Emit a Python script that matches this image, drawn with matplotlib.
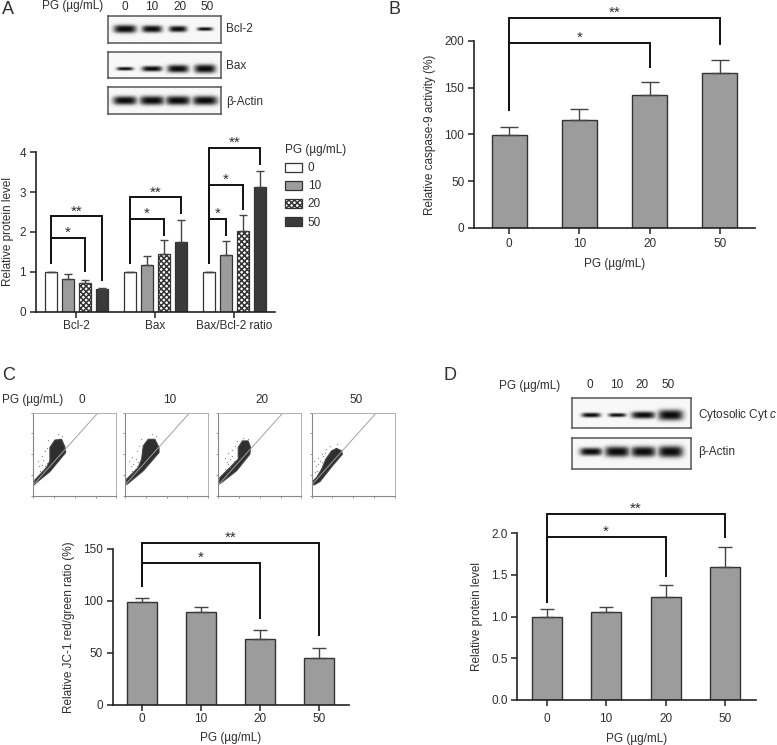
import numpy as np
import matplotlib
matplotlib.use('Agg')
import matplotlib.pyplot as plt
from matplotlib.patches import Patch, Polygon

plt.rcParams['font.family'] = ['Liberation Sans', 'DejaVu Sans']
plt.rcParams['font.size'] = 8.5
plt.rcParams['text.color'] = '#2e2e2e'
plt.rcParams['xtick.labelcolor'] = '#2e2e2e'
plt.rcParams['ytick.labelcolor'] = '#2e2e2e'
plt.rcParams['axes.labelcolor'] = '#2e2e2e'
plt.rcParams['hatch.linewidth'] = 1.1
plt.rcParams['mathtext.fontset'] = 'custom'
plt.rcParams['mathtext.it'] = 'Liberation Sans:italic'

W, H = 777, 745
PG = ['0', '10', '20', '50']
GREY = '#9c9c9c'
DARK = '#3a3a3a'

# panel A
a_groups = ['Bcl-2', 'Bax', 'Bax/Bcl-2 ratio']
a_vals = [[1.0, 1.0, 1.0], [0.83, 1.18, 1.42], [0.73, 1.45, 2.02], [0.57, 1.75, 3.12]]
a_errs = [[0.0, 0.0, 0.0], [0.12, 0.23, 0.36], [0.07, 0.35, 0.41], [0.03, 0.56, 0.42]]
# panel B
b_vals = [99, 115, 142, 166]
b_errs = [9, 12, 14, 13]
# panel C
c_vals = [99, 89, 63, 45]
c_errs = [4, 5, 9, 10]
# panel D
d_vals = [1.0, 1.06, 1.23, 1.59]
d_errs = [0.09, 0.06, 0.15, 0.25]

# western blot band strengths (width, thickness) per lane
blot_bcl2 = [(0.95, 0.85), (0.85, 0.75), (0.75, 0.65), (0.65, 0.38)]
blot_bax = [(0.7, 0.38), (0.85, 0.6), (0.9, 0.85), (0.9, 0.95)]
blot_actin_a = [(1.0, 0.95), (1.05, 1.0), (1.05, 1.0), (1.05, 1.0)]
blot_cyt = [(0.75, 0.45), (0.7, 0.38), (0.95, 0.7), (1.0, 1.05)]
blot_actin_d = [(0.9, 0.75), (1.0, 1.0), (1.0, 1.0), (1.0, 1.1)]

# flow cytometry clouds, outlines read in axes fractions
flow_clouds = [
    [(0.2, 0.42), (0.2, 0.58), (0.26, 0.67), (0.34, 0.68), (0.38, 0.59), (0.39, 0.52), (0.2, 0.29),
     (0.04, 0.16), (0.01, 0.13), (0.02, 0.19), (0.16, 0.34)],
    [(0.2, 0.44), (0.22, 0.6), (0.28, 0.68), (0.36, 0.68), (0.41, 0.58), (0.41, 0.52), (0.22, 0.3),
     (0.04, 0.15), (0.01, 0.13), (0.02, 0.2), (0.16, 0.34)],
    [(0.24, 0.44), (0.24, 0.58), (0.29, 0.66), (0.36, 0.66), (0.39, 0.58), (0.38, 0.5), (0.22, 0.3),
     (0.04, 0.16), (0.01, 0.14), (0.02, 0.22), (0.14, 0.34)],
    [(0.01, 0.14), (0.01, 0.17), (0.06, 0.22), (0.12, 0.32), (0.17, 0.44), (0.24, 0.54), (0.3, 0.57),
     (0.36, 0.54), (0.37, 0.5), (0.25, 0.36), (0.1, 0.17), (0.03, 0.13)],
]
# the few stray events left of the clouds
flow_stray = [
    [(0.06, 0.415), (0.1, 0.476), (0.12, 0.435), (0.07, 0.355), (0.14, 0.536), (0.16, 0.577), (0.16, 0.395),
     (0.12, 0.315), (0.18, 0.677), (0.3, 0.738), (0.35, 0.718), (0.1, 0.375), (0.14, 0.355), (0.08, 0.295)],
    [(0.05, 0.42), (0.09, 0.47), (0.13, 0.44), (0.07, 0.36), (0.15, 0.54), (0.17, 0.6), (0.16, 0.4),
     (0.12, 0.32), (0.19, 0.68), (0.32, 0.74), (0.37, 0.72), (0.1, 0.38), (0.14, 0.36), (0.08, 0.3)],
    [(0.08, 0.46), (0.12, 0.52), (0.14, 0.44), (0.1, 0.4), (0.17, 0.55), (0.2, 0.6), (0.19, 0.42),
     (0.14, 0.34), (0.22, 0.66), (0.3, 0.7), (0.36, 0.68), (0.12, 0.38), (0.16, 0.48), (0.08, 0.32)],
    [(0.03, 0.42), (0.05, 0.36), (0.08, 0.46), (0.06, 0.3), (0.1, 0.42), (0.12, 0.5), (0.14, 0.48),
     (0.08, 0.38), (0.17, 0.56), (0.22, 0.6), (0.31, 0.62), (0.04, 0.28), (0.12, 0.4), (0.16, 0.52)],
]
flow_x = [33.3, 125, 218.3, 311.7]


def ax_px(x0, ytop, x1, ybot, fig):
    return fig.add_axes([x0 / W, 1 - ybot / H, (x1 - x0) / W, (ybot - ytop) / H])


def bracket(ax, x0, x1, y, y0, y1, stars):
    ax.plot([x0, x0, x1, x1], [y0, y, y, y1], color='#111111', lw=1.4, clip_on=False,
            solid_joinstyle='miter', solid_capstyle='butt')
    ax.annotate(stars, xy=((x0 + x1) / 2, y), xytext=(0, 3.6), textcoords='offset points',
                ha='center', va='center', fontsize=11, annotation_clip=False)


def style(ax):
    ax.spines['top'].set_visible(False)
    ax.spines['right'].set_visible(False)
    ax.spines['left'].set_linewidth(1.2)
    ax.spines['bottom'].set_linewidth(1.2)
    ax.spines['left'].set_color('#222222')
    ax.spines['bottom'].set_color('#222222')
    ax.tick_params(length=4, width=1.1, pad=3, color='#222222')


def bar_panel(fig, box, xlim, ylim, yticks, ylabel, vals, errs, width, labelpad, capsize, xpad, xlabelpad):
    ax = ax_px(*box, fig)
    x = np.arange(len(vals))
    ax.bar(x, vals, width, color=GREY, edgecolor='#333333', lw=1.0,
           yerr=[np.zeros(len(errs)), errs], ecolor='#444444', capsize=capsize,
           error_kw={'lw': 1.0, 'capthick': 1.0})
    ax.set_xlim(*xlim)
    ax.set_ylim(*ylim)
    ax.set_yticks(yticks)
    ax.set_xticks(x, PG)
    ax.set_xlabel('PG (µg/mL)', labelpad=xlabelpad)
    ax.set_ylabel(ylabel, labelpad=labelpad)
    style(ax)
    ax.tick_params(axis='x', pad=xpad)
    return ax


def blot(fig, box, bands, centers, cy=0.5):
    ax = ax_px(*box, fig)
    px = np.linspace(0, 1, 300)
    py = np.linspace(0, 1, 60)
    xx, yy = np.meshgrid(px, py)
    img = np.zeros_like(xx)
    for c, (w, t) in zip(centers, bands):
        u = (xx - c) / (0.105 * w)
        v = (yy - cy) / (0.17 * t)
        img = np.maximum(img, np.exp(-u ** 4 - np.abs(v) ** 2.6))
    ax.imshow(0.97 - 0.93 * img, cmap='gray', vmin=0, vmax=1, aspect='auto', extent=[0, 1, 0, 1],
              interpolation='bilinear')
    ax.set_xticks([])
    ax.set_yticks([])
    for s in ax.spines.values():
        s.set_linewidth(1.1)
        s.set_color('#555555')
    return ax


def flow(fig, x0, cloud, stray):
    ax = ax_px(x0, 412.7, x0 + 83, 495.7, fig)
    ax.set_xlim(0, 1)
    ax.set_ylim(0, 1)
    ax.plot([0, 0.78], [0.13, 1.0], color='#a0a0a0', lw=0.7)
    ax.add_patch(Polygon(cloud, closed=True, facecolor='#2f2f2f', edgecolor='#444444', lw=0.8))
    ax.plot([p[0] for p in stray], [p[1] for p in stray], ls='none', marker='o', ms=0.9, color='#8a8a8a', mew=0)
    ax.set_xticks([0, 0.25, 0.5, 0.75, 1], [])
    ax.set_yticks([0, 0.25, 0.5, 0.75, 1], [])
    ax.tick_params(length=1.5, width=0.5, color='#666666')
    for s in ('top', 'right'):
        ax.spines[s].set_linewidth(0.7)
        ax.spines[s].set_color('#b0b0b0')
    for s in ('left', 'bottom'):
        ax.spines[s].set_linewidth(0.8)
        ax.spines[s].set_color('#888888')
    return ax


fig = plt.figure(figsize=(W / 100, H / 100), dpi=100)


def ftext(x, y, s, **kw):
    kw.setdefault('ha', 'left')
    kw.setdefault('va', 'center')
    fig.text(x / W, 1 - y / H, s, **kw)


for label, x, y in [('A', 2, 9), ('B', 389, 9), ('C', 2, 375), ('D', 443, 375)]:
    ftext(x, y, label, fontsize=13)

# A blots
lanes = [0.15, 0.39, 0.62, 0.86]
ftext(41.5, 6.5, 'PG (µg/mL)')
for xp, s in zip([124.7, 151.7, 180, 206.7], PG):
    ftext(xp, 6.5, s, ha='center')
blot(fig, (108, 15.7, 220.7, 42.7), blot_bcl2, lanes)
blot(fig, (108, 51.7, 220.7, 78.3), blot_bax, lanes, cy=0.66)
blot(fig, (108, 87.3, 220.7, 114.3), blot_actin_a, lanes)
ftext(226, 29, 'Bcl-2')
ftext(226, 65.7, 'Bax')
ftext(226, 102.3, 'β-Actin')

# A bars
axa = ax_px(35.7, 152.3, 275, 311.7, fig)
g = np.arange(3)
offs = [-0.32, -0.107, 0.107, 0.32]
styles = [dict(color='white', hatch=None), dict(color=GREY, hatch=None),
          dict(color='white', hatch='xxxxxx'), dict(color=DARK, hatch=None)]
bw = 0.15
for i in range(4):
    axa.bar(g + offs[i], a_vals[i], bw, facecolor=styles[i]['color'], hatch=styles[i]['hatch'],
            edgecolor='#333333', lw=0.9)
    axa.errorbar(g + offs[i], a_vals[i], yerr=[np.zeros(3), a_errs[i]], fmt='none', ecolor='#444444',
                 capsize=3, lw=1.0, capthick=1.0)
axa.set_xlim(-0.515, 2.515)
axa.set_ylim(0, 4)
axa.set_yticks([0, 1, 2, 3, 4])
axa.set_xticks(g, a_groups)
axa.set_ylabel('Relative protein level', labelpad=3.5)
style(axa)
axa.tick_params(axis='x', pad=2)
bracket(axa, offs[0], offs[3], 2.39, 1.2, 0.78, '**')
bracket(axa, offs[0], offs[2], 1.85, 1.2, 1.0, '*')
bracket(axa, 1 + offs[0], 1 + offs[3], 2.87, 1.2, 2.45, '**')
bracket(axa, 1 + offs[0], 1 + offs[2], 2.33, 1.2, 1.9, '*')
bracket(axa, 2 + offs[0], 2 + offs[3], 4.12, 1.2, 3.67, '**')
bracket(axa, 2 + offs[0], 2 + offs[2], 3.19, 1.2, 2.55, '*')
bracket(axa, 2 + offs[0], 2 + offs[1], 2.33, 1.2, 1.9, '*')
handles = [Patch(facecolor=s['color'], hatch=s['hatch'], edgecolor='#333333', lw=0.9, label=l)
           for s, l in zip(styles, PG)]
axa.legend(handles=handles, title='PG (µg/mL)', frameon=False, loc='upper left',
           bbox_to_anchor=(1.04, 1.052), handlelength=1.46, handleheight=0.8,
           labelspacing=0.52, handletextpad=0.5, borderpad=0, borderaxespad=0, alignment='left',
           title_fontsize=8.5)

# B
axb = bar_panel(fig, (474, 40.7, 755, 228), (-0.5, 3.5), (0, 200), [0, 50, 100, 150, 200],
                'Relative caspase-9 activity (%)', b_vals, b_errs, 0.5, 6, 6.5, 3, 6)
bracket(axb, 0, 3, 224, 125, 195, '**')
bracket(axb, 0, 2, 198, 125, 171, '*')

# C
ftext(1.7, 400, 'PG (µg/mL)')
for xp, s in zip([81.7, 170, 261.7, 356], PG):
    ftext(xp, 400, s, ha='center')
for x0, cloud, stray in zip(flow_x, flow_clouds, flow_stray):
    flow(fig, x0, cloud, stray)
axc = bar_panel(fig, (112.7, 548.7, 349, 704.7), (-0.49, 3.5), (0, 150), [0, 50, 100, 150],
                'Relative JC-1 red/green ratio (%)', c_vals, c_errs, 0.51, 6, 5, 1.7, 5)
bracket(axc, 0, 3, 155.8, 113, 66, '**')
bracket(axc, 0, 2, 136, 113, 82, '*')

# D
ftext(499.3, 385.5, 'PG (µg/mL)')
for xp, s in zip([590, 617, 642, 668], PG):
    ftext(xp, 385.5, s, ha='center')
lanes_d = [0.16, 0.38, 0.6, 0.83]
blot(fig, (571.7, 398, 690.7, 428), blot_cyt, lanes_d, cy=0.57)
blot(fig, (571.7, 438, 690.7, 469), blot_actin_d, lanes_d, cy=0.44)
ftext(698, 415, 'Cytosolic Cyt $\\mathit{c}$')
ftext(698, 451.7, 'β-Actin')
axd = bar_panel(fig, (517.3, 533.3, 756, 700), (-0.494, 3.52), (0, 2), [0, 0.5, 1.0, 1.5, 2.0],
                'Relative protein level', d_vals, d_errs, 0.505, 5.5, 5, 5, 6)
bracket(axd, 0, 3, 2.232, 1.168, 1.94, '**')
bracket(axd, 0, 2, 1.96, 1.168, 1.475, '*')

fig.savefig('out.png', dpi=100)
